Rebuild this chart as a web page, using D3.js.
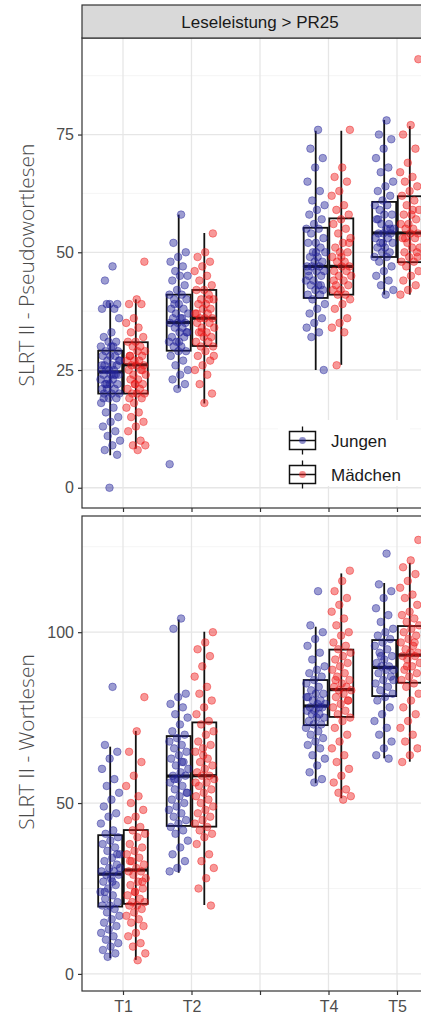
<!DOCTYPE html>
<html>
<head>
<meta charset="utf-8">
<script src="https://cdn.jsdelivr.net/npm/d3@7/dist/d3.min.js"></script>
<style>
  body { margin: 0; background: #fff; }
</style>
</head>
<body>
<svg id="chart" width="421" height="1016"></svg>
<script>
// categories and labels
var timepoints = ["T1", "T2", "T3", "T4", "T5"];
var tickLabels = ["T1", "T2", "", "T4", "T5"];
var groups = ["Jungen", "Mädchen"];
var stripLabel = "Leseleistung > PR25";
var titles = ["SLRT II - Pseudowortlesen", "SLRT II - Wortlesen"];

// box stats per timepoint: [lower whisker, q1, median, q3, upper whisker], null = no data
var pseudoBoxJ = [[6.9, 20.0, 24.6, 29.1, 39.2], [21.1, 29.1, 35.1, 41.0, 58], null, [25, 40.3, 47.0, 55.2, 75.8], [41, 49, 54.1, 60.7, 78.1]];
var pseudoBoxM = [[8.3, 20.0, 26.1, 30.9, 40], [17.9, 30.1, 36, 42, 54.1], null, [26.1, 41, 47, 57.2, 75.8], [41, 47.9, 54.1, 61.9, 76.8]];
var wortBoxJ = [[4.6, 19.7, 29.2, 40.6, 66.5], [29.6, 43.3, 57.9, 69.6, 103.7], null, [55.8, 72.8, 78.4, 86, 101.6], [63.1, 81.3, 89.7, 97.7, 114.4]];
var wortBoxM = [[4.1, 20.5, 30.4, 42.1, 71.1], [20.2, 43.1, 58, 73.6, 100.1], null, [51.4, 75.2, 83.2, 94.9, 117.2], [62.1, 85.2, 93.3, 101.8, 120.3]];

// individual scores, per timepoint
var pseudoPtsJ = [
  [47, 44, 39, 39, 38, 38, 39, 36, 33, 32, 31, 31, 30, 30, 29, 29, 28, 28, 28, 27, 27, 26, 26, 26, 25, 25, 25, 25, 24, 24, 24, 24, 23, 23, 23, 22, 22, 22, 21, 21, 21, 20, 20, 20, 19, 19, 18, 17, 16, 15, 14, 13, 12, 11, 10, 9, 8, 7, 0, 26, 24, 22, 27, 30, 19],
  [58, 52, 50, 49, 48, 47, 46, 45, 45, 44, 43, 42, 41, 41, 40, 40, 39, 38, 38, 37, 37, 36, 36, 35, 35, 35, 34, 34, 33, 33, 32, 32, 31, 31, 30, 30, 29, 29, 28, 27, 26, 25, 24, 23, 22, 21, 5, 36, 39, 33, 31],
  [],
  [76, 72, 70, 68, 65, 63, 61, 60, 59, 58, 57, 56, 55, 55, 54, 53, 52, 52, 51, 50, 50, 49, 49, 48, 48, 47, 47, 47, 46, 46, 45, 45, 44, 44, 43, 43, 42, 42, 41, 41, 40, 39, 38, 37, 36, 35, 34, 33, 32, 25, 50, 46, 43],
  [78, 75, 74, 72, 70, 68, 67, 65, 64, 63, 62, 61, 60, 60, 59, 58, 58, 57, 56, 56, 55, 55, 54, 54, 54, 53, 53, 52, 52, 51, 51, 50, 50, 49, 49, 48, 47, 46, 45, 44, 43, 42, 41, 57, 55, 52]
];
var pseudoPtsM = [
  [48, 40, 39, 39, 36, 35, 34, 33, 32, 31, 31, 30, 30, 29, 29, 28, 28, 27, 27, 27, 26, 26, 26, 25, 25, 24, 24, 23, 23, 22, 22, 21, 21, 20, 20, 20, 19, 19, 18, 17, 16, 15, 14, 13, 12, 10, 9, 9, 8, 28, 25, 22],
  [54, 50, 49, 48, 47, 46, 45, 44, 43, 42, 42, 41, 40, 40, 39, 39, 38, 38, 37, 37, 36, 36, 36, 35, 35, 34, 34, 33, 33, 32, 32, 31, 31, 30, 30, 29, 28, 27, 26, 25, 24, 22, 20, 18, 37, 40, 33, 28],
  [],
  [76, 68, 66, 65, 63, 62, 60, 59, 58, 57, 56, 55, 54, 53, 52, 51, 50, 50, 49, 48, 48, 47, 47, 46, 46, 45, 45, 44, 43, 43, 42, 42, 41, 41, 40, 39, 38, 36, 35, 34, 33, 26, 52, 49, 44],
  [91, 77, 75, 72, 69, 67, 66, 65, 64, 63, 62, 61, 60, 59, 58, 58, 57, 56, 56, 55, 55, 54, 54, 53, 53, 52, 51, 51, 50, 50, 49, 48, 48, 47, 46, 45, 44, 43, 42, 41, 59, 53, 49]
];
var wortPtsJ = [
  [84, 67, 65, 63, 60, 57, 55, 53, 51, 49, 47, 46, 44, 42, 41, 40, 39, 38, 37, 36, 35, 34, 33, 32, 31, 30, 30, 29, 29, 28, 27, 26, 25, 24, 23, 22, 21, 20, 20, 19, 18, 17, 16, 15, 14, 13, 12, 11, 10, 9, 8, 7, 6, 5, 31, 27, 24, 35],
  [104, 101, 82, 81, 79, 78, 76, 75, 73, 71, 70, 69, 68, 67, 66, 65, 64, 63, 62, 61, 60, 59, 58, 58, 57, 56, 55, 54, 53, 52, 51, 50, 49, 48, 47, 46, 45, 44, 43, 42, 41, 39, 37, 35, 33, 31, 30, 62, 57, 53],
  [],
  [112, 102, 100, 98, 96, 94, 92, 90, 89, 88, 87, 86, 85, 84, 83, 82, 82, 81, 80, 80, 79, 79, 78, 78, 77, 77, 76, 76, 75, 75, 74, 73, 73, 72, 71, 70, 69, 68, 67, 66, 64, 63, 61, 59, 57, 56, 81, 78],
  [123, 114, 112, 110, 107, 105, 103, 101, 100, 99, 98, 97, 96, 95, 94, 93, 92, 91, 90, 90, 89, 89, 88, 87, 86, 85, 84, 83, 82, 81, 80, 78, 76, 74, 72, 70, 68, 66, 64, 63, 93, 86]
];
var wortPtsM = [
  [81, 71, 65, 62, 58, 55, 52, 50, 48, 46, 45, 43, 42, 41, 40, 38, 37, 36, 35, 34, 33, 32, 31, 30, 30, 29, 28, 27, 26, 25, 24, 23, 22, 21, 21, 20, 20, 19, 18, 17, 16, 15, 14, 12, 11, 9, 8, 6, 4, 33, 27, 24],
  [100, 97, 95, 93, 90, 87, 84, 82, 80, 78, 76, 74, 73, 71, 70, 68, 67, 66, 65, 63, 62, 61, 60, 59, 58, 58, 57, 56, 55, 54, 53, 52, 51, 50, 49, 48, 47, 46, 45, 44, 43, 42, 41, 40, 38, 35, 33, 31, 28, 25, 20, 64, 56],
  [],
  [118, 115, 112, 110, 108, 106, 104, 102, 100, 99, 97, 96, 95, 94, 93, 92, 91, 90, 89, 88, 87, 86, 85, 84, 84, 83, 83, 82, 81, 80, 79, 78, 77, 76, 75, 74, 72, 70, 68, 66, 64, 62, 60, 58, 56, 54, 53, 52, 51, 86, 80],
  [127, 121, 119, 117, 115, 113, 111, 110, 108, 106, 105, 104, 103, 102, 101, 100, 99, 98, 97, 96, 95, 94, 94, 93, 93, 92, 91, 90, 89, 88, 87, 86, 85, 84, 82, 80, 78, 76, 74, 72, 70, 68, 66, 64, 62, 97, 90]
];

var pseudoTicks = [0, 25, 50, 75];
var pseudoMinor = [12.5, 37.5, 62.5, 87.5];
var wortTicks = [0, 50, 100];
var wortMinor = [25, 75, 125];

// styling
var colJ = "#23239a", colM = "#ee1a1a";
var tickFont = "'Liberation Sans', Arial, sans-serif";
var titleFont = "'Open Sans', 'DejaVu Sans', sans-serif";

var svg = d3.select("#chart");
var left = 82, right = 438;

var x = d3.scalePoint()
  .domain(timepoints)
  .range([123, 397]);

var dodge = 12.8, boxW = 24;

////////////////////////////////////////// one panel
function drawPanel(p) {
  var g = svg.append("g");
  var y = d3.scaleLinear().domain(p.domain).range([p.bottom, p.top]);

  // background + grid
  g.append("rect")
    .attr("x", left).attr("y", p.top)
    .attr("width", right - left).attr("height", p.bottom - p.top)
    .attr("fill", "#fff");

  g.selectAll(".minor").data(p.minor).enter().append("line")
    .attr("x1", left).attr("x2", right)
    .attr("y1", function(d) { return y(d); }).attr("y2", function(d) { return y(d); })
    .attr("stroke", "#f2f2f2").attr("stroke-width", 0.8);

  g.selectAll(".hmaj").data(p.ticks).enter().append("line")
    .attr("x1", left).attr("x2", right)
    .attr("y1", function(d) { return y(d); }).attr("y2", function(d) { return y(d); })
    .attr("stroke", "#e6e6e6").attr("stroke-width", 1.3);

  g.selectAll(".vmaj").data(timepoints).enter().append("line")
    .attr("x1", function(d) { return x(d); }).attr("x2", function(d) { return x(d); })
    .attr("y1", p.top).attr("y2", p.bottom)
    .attr("stroke", "#e6e6e6").attr("stroke-width", 1.3);

  // boxes for both groups
  [[p.boxJ, -dodge], [p.boxM, dodge]].forEach(function(b) {
    b[0].forEach(function(s, i) {
      if (!s) return;
      var cx = x(timepoints[i]) + b[1];
      g.append("line")
        .attr("x1", cx).attr("x2", cx)
        .attr("y1", y(s[0])).attr("y2", y(s[4]))
        .attr("stroke", "#111").attr("stroke-width", 1.8);
      g.append("rect")
        .attr("x", cx - boxW / 2).attr("y", y(s[3]))
        .attr("width", boxW).attr("height", y(s[1]) - y(s[3]))
        .attr("fill", "#fff").attr("fill-opacity", 0)
        .attr("stroke", "#111").attr("stroke-width", 1.8);
      g.append("line")
        .attr("x1", cx - boxW / 2).attr("x2", cx + boxW / 2)
        .attr("y1", y(s[2])).attr("y2", y(s[2]))
        .attr("stroke", "#111").attr("stroke-width", 3.2);
    });
  });

  // jittered points (deterministic jitter)
  [[p.ptsJ, -dodge, colJ], [p.ptsM, dodge, colM]].forEach(function(b, gi) {
    b[0].forEach(function(vals, i) {
      var cx = x(timepoints[i]) + b[1];
      g.selectAll(null).data(vals).enter().append("circle")
        .attr("cx", function(d, k) { return cx + (((k + 1) * 0.6180339887 + gi * 0.31) % 1 - 0.5) * 20; })
        .attr("cy", function(d) { return y(d); })
        .attr("r", 3.8)
        .attr("fill", b[2]).attr("fill-opacity", 0.45)
        .attr("stroke", b[2]).attr("stroke-opacity", 0.55).attr("stroke-width", 0.8);
    });
  });

  // panel border
  g.append("rect")
    .attr("x", left).attr("y", p.top)
    .attr("width", right - left).attr("height", p.bottom - p.top)
    .attr("fill", "none").attr("stroke", "#333").attr("stroke-width", 1.2);

  // y axis
  var ya = g.append("g")
    .attr("transform", "translate(" + left + ",0)")
    .call(d3.axisLeft(y).tickValues(p.ticks).tickSize(4).tickPadding(4));
  ya.select(".domain").remove();
  ya.selectAll("line").attr("stroke", "#333").attr("stroke-width", 1.2);
  ya.selectAll("text").attr("fill", "#4d4d4d").style("font-family", tickFont).style("font-size", "16px");

  // x axis
  var xa = g.append("g")
    .attr("transform", "translate(0," + p.bottom + ")")
    .call(d3.axisBottom(x).tickSize(4).tickPadding(6)
      .tickFormat(function(d, i) { return p.labels ? tickLabels[i] : ""; }));
  xa.select(".domain").remove();
  xa.selectAll("line").attr("stroke", "#333").attr("stroke-width", 1.2);
  xa.selectAll("text").attr("fill", "#4d4d4d").style("font-family", tickFont).style("font-size", "16px");

  // y title
  svg.append("text")
    .attr("transform", "translate(34," + p.titleY + ") rotate(-90)")
    .attr("text-anchor", "middle")
    .attr("fill", "#4a4a4a")
    .style("font-family", titleFont).style("font-weight", 300).style("font-size", "21px")
    .text(p.title);

  return y;
}

drawPanel({
  top: 38, bottom: 508, domain: [-4.3, 95.5],
  ticks: pseudoTicks, minor: pseudoMinor,
  boxJ: pseudoBoxJ, boxM: pseudoBoxM, ptsJ: pseudoPtsJ, ptsM: pseudoPtsM,
  labels: false, title: titles[0], titleY: 265
});

drawPanel({
  top: 516, bottom: 991, domain: [-5, 134],
  ticks: wortTicks, minor: wortMinor,
  boxJ: wortBoxJ, boxM: wortBoxM, ptsJ: wortPtsJ, ptsM: wortPtsM,
  labels: true, title: titles[1], titleY: 742
});

////////////////////////////////////////// strip
svg.append("rect")
  .attr("x", left).attr("y", 5)
  .attr("width", right - left).attr("height", 33)
  .attr("fill", "#d9d9d9").attr("stroke", "#333").attr("stroke-width", 1.2);
svg.append("text")
  .attr("x", (left + right) / 2).attr("y", 28)
  .attr("text-anchor", "middle")
  .attr("fill", "#1a1a1a")
  .style("font-family", tickFont).style("font-size", "17px")
  .text(stripLabel);

////////////////////////////////////////// legend
var lg = svg.append("g");
lg.append("rect")
  .attr("x", 278).attr("y", 420).attr("width", 132).attr("height", 66)
  .attr("fill", "#fff");
groups.forEach(function(name, i) {
  var cy = 440.5 + i * 34, cx = 302.5, col = i === 0 ? colJ : colM;
  lg.append("line").attr("x1", cx).attr("x2", cx).attr("y1", cy - 14).attr("y2", cy + 14)
    .attr("stroke", "#111").attr("stroke-width", 1.3);
  lg.append("rect").attr("x", cx - 13).attr("y", cy - 9).attr("width", 26).attr("height", 18)
    .attr("fill", "#fff").attr("stroke", "#111").attr("stroke-width", 1.5);
  lg.append("line").attr("x1", cx - 13).attr("x2", cx + 13).attr("y1", cy).attr("y2", cy)
    .attr("stroke", "#111").attr("stroke-width", 1.5);
  lg.append("circle").attr("cx", cx).attr("cy", cy).attr("r", 3.4)
    .attr("fill", col).attr("fill-opacity", 0.5);
  lg.append("text").attr("x", 331).attr("y", cy + 6)
    .attr("fill", "#1a1a1a")
    .style("font-family", tickFont).style("font-size", "17px")
    .text(name);
});
</script>
</body>
</html>
